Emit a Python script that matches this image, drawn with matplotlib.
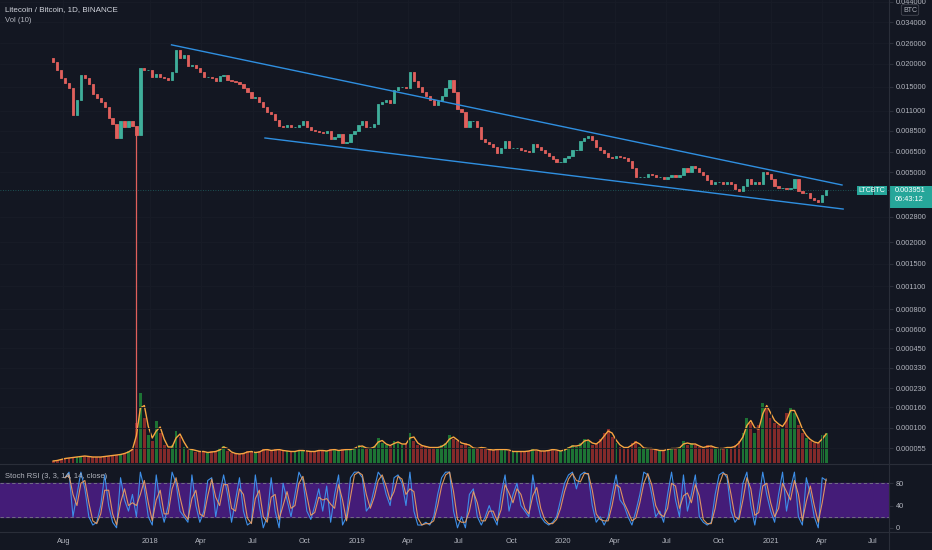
import numpy as np
import pandas as pd
import matplotlib
matplotlib.use('Agg')
import matplotlib.pyplot as plt
import matplotlib.dates as mdates
from matplotlib.patches import Rectangle
from matplotlib.lines import Line2D
from matplotlib.ticker import FixedLocator, FormatStrFormatter, NullLocator

plt.rcParams['font.family'] = ['Liberation Sans', 'DejaVu Sans']

# weekly LTC/BTC closes, starting 2017-07-14
start_date = '2017-07-14'
first_open = 0.0215
closes = [
    0.0205, 0.0185, 0.0167, 0.0156, 0.0147, 0.0104, 0.0126, 0.0174, 0.0167, 0.0154,
    0.0137, 0.0130, 0.0123, 0.0115, 0.0100, 0.0093, 0.0078, 0.0096, 0.0090, 0.0096,
    0.0091, 0.0081, 0.0190, 0.0185, 0.0185, 0.0170, 0.0176, 0.0170, 0.0167, 0.0163,
    0.0181, 0.0239, 0.0216, 0.0224, 0.0195, 0.0198, 0.0190, 0.0181, 0.0170, 0.0170,
    0.0167, 0.0161, 0.0172, 0.0174, 0.0163, 0.0161, 0.0159, 0.0154, 0.0147, 0.0140,
    0.0130, 0.0131, 0.0123, 0.0115, 0.0108, 0.0105, 0.0098, 0.0091, 0.0089, 0.0092,
    0.0090, 0.0090, 0.0092, 0.0096, 0.0089, 0.0086, 0.0085, 0.0084, 0.0083, 0.0085,
    0.0077, 0.0079, 0.0082, 0.0073, 0.0074, 0.0082, 0.0085, 0.0092, 0.0096, 0.0089,
    0.0090, 0.0093, 0.0120, 0.0123, 0.0126, 0.0122, 0.0144, 0.0149, 0.0150, 0.0147,
    0.0181, 0.0161, 0.0150, 0.0140, 0.0133, 0.0126, 0.0119, 0.0125, 0.0133, 0.0147,
    0.0163, 0.0140, 0.0113, 0.0108, 0.0089, 0.0096, 0.0097, 0.0089, 0.0077, 0.0074,
    0.0072, 0.0069, 0.0064, 0.0068, 0.0075, 0.0068, 0.0068, 0.0068, 0.0067, 0.0066,
    0.0065, 0.0072, 0.0069, 0.0067, 0.0064, 0.0062, 0.0059, 0.0057, 0.0057, 0.0060,
    0.0062, 0.0067, 0.0067, 0.0075, 0.0078, 0.0080, 0.0076, 0.0069, 0.0067, 0.0064,
    0.0061, 0.0060, 0.0062, 0.0061, 0.0060, 0.0058, 0.0053, 0.0047, 0.0047, 0.0047,
    0.0049, 0.0048, 0.0047, 0.0047, 0.0046, 0.0047, 0.0048, 0.0047, 0.0048, 0.0053,
    0.0050, 0.0054, 0.0053, 0.0050, 0.0048, 0.0045, 0.0043, 0.0044, 0.0044, 0.0043,
    0.0044, 0.0043, 0.0040, 0.0039, 0.0042, 0.0046, 0.0043, 0.0044, 0.0043, 0.0050,
    0.0049, 0.0046, 0.0042, 0.0041, 0.0041, 0.0040, 0.0041, 0.0046, 0.0039, 0.0038,
    0.0038, 0.0036, 0.0035, 0.0034, 0.0037, 0.003951,
]

# the Dec 2017 flash crash wick
crash_date = '2017-12-08'
crash_low = 0.000098
crash_top = 0.0091

# weekly volume, thousand LTC
volumes = [
    20, 30, 40, 50, 50, 60, 60, 70, 70, 60,
    60, 60, 60, 70, 70, 80, 80, 90, 100, 120,
    150, 400, 700, 450, 280, 220, 420, 300, 180, 140,
    180, 320, 260, 160, 130, 140, 110, 120, 110, 100,
    120, 110, 150, 170, 120, 100, 90, 90, 100, 120,
    110, 100, 120, 140, 130, 120, 140, 130, 120, 120,
    110, 120, 130, 120, 120, 110, 120, 130, 120, 120,
    140, 130, 120, 140, 130, 140, 150, 180, 160, 140,
    150, 170, 250, 200, 180, 170, 220, 200, 180, 200,
    300, 220, 180, 170, 160, 150, 160, 150, 180, 200,
    280, 240, 220, 180, 200, 160, 140, 150, 160, 140,
    130, 130, 140, 130, 140, 120, 110, 120, 110, 120,
    120, 140, 120, 120, 120, 130, 140, 120, 120, 140,
    160, 180, 160, 200, 240, 220, 180, 200, 240, 300,
    340, 260, 200, 160, 150, 160, 200, 220, 160, 140,
    150, 140, 130, 120, 130, 140, 150, 140, 160, 220,
    180, 200, 180, 160, 150, 180, 160, 150, 140, 150,
    160, 150, 180, 220, 300, 450, 400, 300, 380, 600,
    550, 450, 400, 380, 350, 500, 550, 500, 380, 300,
    250, 220, 200, 200, 280, 300,
]

# Stoch RSI %K, weekly
stoch_k = [
    np.nan, np.nan, np.nan, 90, 100, 20, 60, 100, 70, 20,
    5, 10, 40, 95, 40, 10, 0, 90, 50, 30,
    60, 20, 100, 70, 20, 5, 95, 40, 10, 40,
    100, 80, 30, 20, 10, 95, 40, 10, 30, 85,
    90, 20, 60, 95, 60, 10, 50, 90, 30, 5,
    10, 95, 40, 0, 20, 90, 30, 0, 80, 50,
    20, 60, 100, 85, 30, 15, 40, 70, 30, 75,
    10, 60, 95, 5, 20, 90, 100, 100, 90, 30,
    40, 70, 100, 90, 60, 40, 90, 95, 80, 40,
    100, 30, 5, 5, 10, 5, 20, 60, 90, 100,
    100, 30, 0, 20, 0, 60, 70, 20, 5, 20,
    40, 20, 5, 60, 95, 30, 60, 80, 40, 30,
    20, 95, 50, 20, 10, 5, 10, 20, 50, 80,
    95, 100, 70, 95, 100, 95, 40, 10, 20, 5,
    20, 60, 95, 50, 40, 20, 5, 30, 60, 100,
    95, 60, 20, 30, 10, 60, 100, 50, 20, 95,
    30, 60, 95, 20, 10, 5, 10, 60, 95, 100,
    90, 30, 10, 20, 80, 100, 40, 5, 50, 100,
    60, 30, 10, 60, 100, 30, 70, 100, 20, 5,
    90, 60, 20, 0, 90, 85,
]

upper_line_dates = ['2018-02-08', '2021-05-07']
upper_line_prices = [0.0255, 0.00424]
lower_line_dates = ['2018-07-23', '2021-05-09']
lower_line_prices = [0.00777, 0.0031]

price_ticks = [0.044, 0.034, 0.026, 0.020, 0.015, 0.011, 0.0085, 0.0065, 0.005,
               0.0028, 0.002, 0.0015, 0.0011, 0.0008, 0.0006, 0.00045, 0.00033,
               0.00023, 0.00016, 0.0001, 0.000055]
time_ticks = ['2017-08-01', '2018-01-01', '2018-04-01', '2018-07-01', '2018-10-01',
              '2019-01-01', '2019-04-01', '2019-07-01', '2019-10-01', '2020-01-01',
              '2020-04-01', '2020-07-01', '2020-10-01', '2021-01-01', '2021-04-01',
              '2021-07-01']
time_labels = ['Aug', '2018', 'Apr', 'Jul', 'Oct', '2019', 'Apr', 'Jul', 'Oct',
               '2020', 'Apr', 'Jul', 'Oct', '2021', 'Apr', 'Jul']

BG = '#131722'
TXT = '#b2b5be'
LINE = '#2a2e39'
UP = '#26a69a'
DOWN = '#ef5350'
W, H = 932, 550

closes = np.array(closes)
opens = np.concatenate([[first_open], closes[:-1]])
dates = pd.date_range(start_date, periods=len(closes), freq='7D')
up = closes >= opens


def fwd(p):
    return np.log10(np.clip(p, 1e-9, None) + 0.0001)


def inv(v):
    return 10 ** v - 0.0001


fig = plt.figure(figsize=(W / 100, H / 100), dpi=100, facecolor=BG)


def px_axes(x0, y0, x1, y1, **kw):
    return fig.add_axes([x0 / W, 1 - y1 / H, (x1 - x0) / W, (y1 - y0) / H], **kw)


ax = px_axes(0, 0, 889, 463)
axs = px_axes(0, 465, 889, 532, sharex=ax)
axv = ax.twinx()
ax.set_zorder(axv.get_zorder() + 1)
ax.patch.set_visible(False)
axs.set_facecolor(BG)

# candles
ccol = np.where(up, '#3fae9a', '#e0605c')
ax.bar(dates, closes - opens, bottom=opens, width=4, color=ccol,
       edgecolor=ccol, linewidth=0.6, zorder=3)
ax.vlines(pd.Timestamp(crash_date), crash_low, crash_top, color='#e0605c', lw=0.9, zorder=3)

ax.set_yscale('function', functions=(fwd, inv))
ax.set_ylim(2.83e-5, 0.04508)

# trend lines
ax.plot(pd.to_datetime(upper_line_dates), upper_line_prices, color='#2f8fe0', lw=1.0, zorder=4)
ax.plot(pd.to_datetime(lower_line_dates), lower_line_prices, color='#2f8fe0', lw=1.0, zorder=4)

last = closes[-1]
ax.axhline(last, color=UP, ls=(0, (1, 2)), lw=0.6, alpha=0.55, zorder=2)

# volume
vcol = np.where(up, '#1d7334', '#832a2a')
vol_ma = pd.Series(volumes).rolling(2, min_periods=1).mean()
axv.bar(dates, volumes, width=5, color=vcol, zorder=1)
axv.plot(dates, vol_ma, color='#f7a541', lw=1.0, zorder=2)
axv.set_ylim(0, 4630)
axv.set_yticks([])
for s in axv.spines.values():
    s.set_visible(False)

# x range
d0 = mdates.date2num(pd.Timestamp('2018-01-01'))
ax.set_xlim(d0 - 150 / 0.5663, d0 + (889 - 150) / 0.5663)

tick_pos = mdates.date2num(pd.to_datetime(time_ticks))
for a in (ax, axs):
    a.xaxis.set_major_locator(FixedLocator(tick_pos))
    for s in a.spines.values():
        s.set_visible(False)
ax.grid(True, axis='x', color='#181c27', lw=0.6)
ax.tick_params(axis='x', bottom=False, labelbottom=False)
axs.set_xticklabels(time_labels)
axs.tick_params(axis='x', length=0, pad=4, labelsize=5.4, labelcolor=TXT)

ax.yaxis.tick_right()
ax.yaxis.set_major_locator(FixedLocator(price_ticks))
ax.yaxis.set_minor_locator(NullLocator())
ax.yaxis.set_major_formatter(FormatStrFormatter('%.6f'))
ax.tick_params(axis='y', labelsize=5.3, labelcolor=TXT, length=3, color=LINE, pad=2)
ax.grid(True, axis='y', color='#181c27', lw=0.6)

# stoch rsi
k = pd.Series(stoch_k)
d = k.rolling(2, min_periods=1).mean()
axs.axhspan(20, 80, color='#441c78', zorder=0)
axs.axhline(80, color='#787b86', ls=(0, (4, 3)), lw=0.6)
axs.axhline(20, color='#787b86', ls=(0, (4, 3)), lw=0.6)
axs.plot(dates, k, color='#3d8ee8', lw=0.8)
axs.plot(dates, d, color='#f0a060', lw=0.8, alpha=0.9)
axs.set_ylim(-7.5, 112.8)
axs.yaxis.tick_right()
axs.set_yticks([0, 40, 80])
axs.tick_params(axis='y', labelsize=5.3, labelcolor=TXT, length=3, color=LINE, pad=2)

# separators
for y in (464, 532):
    fig.add_artist(Line2D([0, 1], [1 - y / H, 1 - y / H], transform=fig.transFigure, color=LINE, lw=0.8))
fig.add_artist(Line2D([889 / W, 889 / W], [0, 1], transform=fig.transFigure, color=LINE, lw=0.8))

# labels
fig.text(5 / W, 1 - 10 / H, 'Litecoin / Bitcoin, 1D, BINANCE', va='center', fontsize=5.8,
         color='#d1d4dc')
fig.text(5 / W, 1 - 20 / H, 'Vol (10)', va='center', fontsize=5.5, color=TXT)
fig.text(5 / W, 1 - 476 / H, 'Stoch RSI (3, 3, 14, 14, close)', va='center', fontsize=5.5,
         color=TXT)
fig.text(910 / W, 1 - 10 / H, 'BTC', ha='center', va='center', fontsize=5, color=TXT,
         bbox=dict(boxstyle='round,pad=0.25', fc=BG, ec='#50535e', lw=0.5))

# last price tags
fig.canvas.draw()
fy = ax.transData.transform((ax.get_xlim()[0], last))[1] / fig.bbox.height
fig.add_artist(Rectangle((889 / W, fy - 17.5 / H), 43 / W, 22 / H, transform=fig.transFigure,
                         fc=UP, ec='none'))
fig.text(895 / W, fy, '%.6f' % last, va='center', fontsize=5.3, color='white')
fig.text(895 / W, fy - 9.5 / H, '06:43:12', va='center', fontsize=5.3, color='white')
fig.add_artist(Rectangle((857 / W, fy - 4.5 / H), 30 / W, 9 / H, transform=fig.transFigure,
                         fc=UP, ec='none'))
fig.text(872 / W, fy, 'LTCBTC', ha='center', va='center', fontsize=5, color='white')

fig.savefig('out.png', dpi=100, facecolor=BG)
